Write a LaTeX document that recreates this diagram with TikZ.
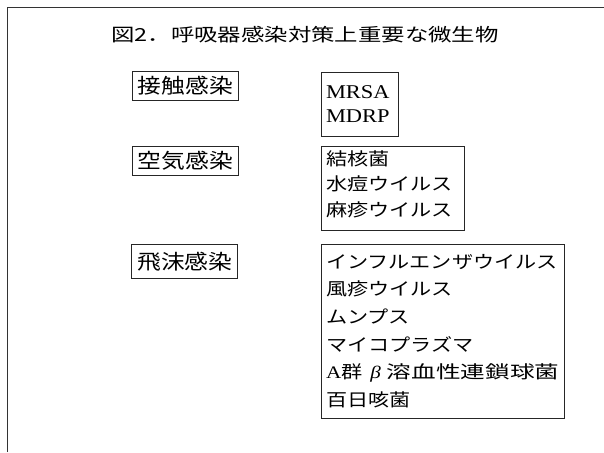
\documentclass[tikz,border=0pt]{standalone}
\usepackage{fontspec}
\usepackage{graphicx}
\newfontfamily\jp{Noto Sans CJK JP}
\newfontfamily\tms{Liberation Serif}
\newcommand\sx[2][1.2]{\scalebox{#1}[1]{#2}}
\begin{document}
\begin{tikzpicture}[x=1pt,y=-1pt,
  lab/.style={draw=black!85, line width=0.9pt, inner sep=0pt, minimum width=106pt,
    font=\jp\fontsize{20.5}{24}\selectfont},
  list/.style={draw=black!85, line width=0.9pt, inner xsep=5pt, inner ysep=0pt, align=left},
  jplist/.style={list, font=\jp\fontsize{17.6}{#1}\selectfont}]
\useasboundingbox (0,0) rectangle (604,452);
\fill[white] (0,0) rectangle (604,452);
\draw[black!80, line width=0.9pt] (7,452) -- (7,7.5) -- (604,7.5);

\node (title) at (305,34.5) {\jp\fontsize{18}{20}\selectfont\sx[1.3]{図2．呼吸器感染対策上重要な微生物}};

\node[lab, minimum height=29pt] (c1) at (185.3,85.5) {\sx[1.16]{接触感染}};
\node[lab, minimum height=28.3pt] (a1) at (185.3,160.8) {\sx[1.16]{空気感染}};
\node[lab, minimum height=34pt] (d1) at (184.8,261.3) {\sx[1.16]{飛沫感染}};

\node[list, text width=67pt, minimum height=64pt, font=\tms\fontsize{19.5}{23.3}\selectfont] (c2) at (359.5,104)
  {\sx[1.15]{MRSA}\\\sx[1.15]{MDRP}};
\node[jplist=25.5, text width=133pt, minimum height=84pt] (a2) at (392.5,188.6)
  {\sx{結核菌}\\\sx{水痘ウイルス}\\\sx{麻疹ウイルス}\rule[-10pt]{0pt}{10pt}};
\node[jplist=27.6, text width=233pt, minimum height=174pt] (d2) at (442.5,331)
  {\sx{インフルエンザウイルス}\\
   \sx{風疹ウイルス}\\
   \sx{ムンプス}\\
   \sx{マイコプラズマ}\\
   \makebox[0pt][l]{\sx{{\tms A}群}\hspace{8pt}\sx{\tms\itshape β}\hspace{6pt}\sx[1.4]{溶血性連鎖球菌}}\\
   \sx{百日咳菌}};
\end{tikzpicture}
\end{document}
